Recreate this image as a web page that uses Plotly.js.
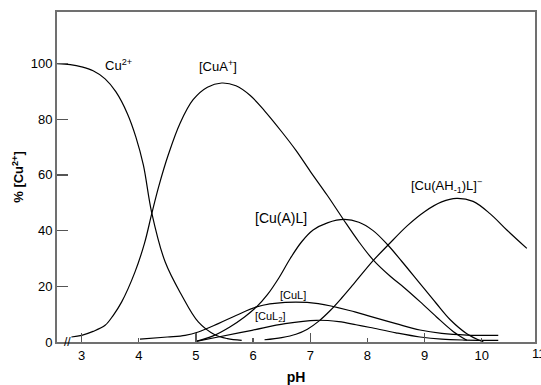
<!DOCTYPE html>
<html>
<head>
<meta charset="utf-8">
<script src="https://cdn.plot.ly/plotly-3.0.1.min.js"></script>
<style>html,body{margin:0;padding:0;background:#fff;}#chart{width:541px;height:385px;}</style>
</head>
<body>
<div id="chart"></div>
<script>
// Species distribution (% of total Cu2+) vs pH
const cu_pH   = [2.56, 2.8, 3.0, 3.2, 3.41, 3.6, 3.8, 3.95, 4.08, 4.225, 4.46, 4.75, 5.04, 5.33, 5.55, 5.8];
const cu_pct  = [100, 99.6, 98.8, 97.4, 94.5, 89.8, 82, 73.5, 63.5, 46.5, 28.8, 16.8, 7.2, 2.6, 1.2, 0.6];

const cua_pH  = [2.82, 3.0, 3.2, 3.41, 3.55, 3.7, 3.93, 4.1, 4.225, 4.35, 4.52, 4.72, 4.95, 5.2, 5.45, 5.7, 5.95, 6.2, 6.5, 6.75, 7.0, 7.3, 7.58, 7.85, 8.1, 8.4, 8.65, 8.92, 9.21, 9.5, 9.74];
const cua_pct = [1.8, 2.4, 3.8, 6, 9.5, 14.4, 25, 35.5, 46, 56, 67.5, 78.5, 87, 91.5, 93, 92, 88.5, 83, 75.5, 68.8, 61.3, 52.6, 44, 36, 29.5, 23.6, 19.4, 14.5, 9, 3.8, 0.6];

const cual_pH  = [5.0, 5.3, 5.6, 5.85, 6.06, 6.25, 6.45, 6.65, 6.85, 7.05, 7.3, 7.6, 7.85, 8.1, 8.35, 8.6, 8.9, 9.2, 9.45, 9.74, 10.03];
const cual_pct = [0.2, 2.2, 5.5, 9, 12.6, 17, 23, 30, 36, 40.2, 42.8, 44, 43, 40, 35, 29, 21.5, 14, 8, 3, 0];

const cuah_pH  = [6.2, 6.5, 6.75, 6.95, 7.15, 7.35, 7.55, 7.75, 8.1, 8.37, 8.7, 9.0, 9.3, 9.56, 9.85, 10.15, 10.44, 10.79];
const cuah_pct = [0.8, 1.6, 2.8, 4.6, 7.5, 11.3, 15.8, 20.6, 29.2, 35, 41.8, 46.8, 50.3, 51.6, 50.5, 46, 40.2, 33.6];

const cul_pH  = [4.02, 4.5, 4.81, 5.04, 5.39, 5.7, 6.06, 6.56, 7.14, 7.78, 8.05, 8.5, 8.92, 9.3, 9.74, 10.29];
const cul_pct = [1, 1.8, 2.4, 3.6, 6.6, 9.5, 12.6, 14.2, 13.8, 10.8, 9.2, 6.6, 4.3, 3.1, 2.5, 2.4];

const cul2_pH  = [5.0, 5.39, 5.98, 6.56, 7.11, 7.5, 7.8, 8.05, 8.5, 8.92, 9.3, 9.7, 10.29];
const cul2_pct = [0.2, 1.8, 4.2, 6.6, 7.8, 7.3, 6.2, 5.2, 3.3, 1.8, 1.0, 0.7, 0.6];

const xTicks = [3, 4, 5, 6, 7, 8, 9, 10];
const xLongTicks = [3, 5, 7, 9];
const yTicks = [0, 20, 40, 60, 80, 100];
const clippedTickLabel = '11';

const labels = [
  {text: 'Cu<sup>2+</sup>', x: 3.64, y: 99.4, size: 13},
  {text: '[CuA<sup>+</sup>]', x: 5.39, y: 99, size: 13},
  {text: '[Cu(A)L]', x: 6.49, y: 44.4, size: 14},
  {text: '[CuL]', x: 6.70, y: 16.8, size: 11},
  {text: '[CuL<sub>2</sub>]', x: 6.31, y: 8.9, size: 11},
  {text: '[Cu(AH<sub>-1</sub>)L]<sup>\u2212</sup>', x: 9.39, y: 55.9, size: 13}
];

const FONT = 'Liberation Sans, Arial, sans-serif';
const X_RANGE = [2.568, 10.933];
const line = {color: '#000', width: 1.2, shape: 'spline', smoothing: 1};
const series = [[cu_pH, cu_pct], [cua_pH, cua_pct], [cual_pH, cual_pct], [cuah_pH, cuah_pct], [cul_pH, cul_pct], [cul2_pH, cul2_pct]];
const traces = series.map(s => ({x: s[0], y: s[1], type: 'scatter', mode: 'lines', line: line, hoverinfo: 'skip'}));
traces.push({x: [], y: [], xaxis: 'x2', yaxis: 'y', type: 'scatter', mode: 'lines', showlegend: false});

const annotations = labels.map(l => ({
  text: l.text, x: l.x, y: l.y, xref: 'x', yref: 'y', showarrow: false,
  font: {family: FONT, size: l.size, color: '#000'}
}));
annotations.push({text: '//', x: 2.76, y: 0, xref: 'x', yref: 'y', showarrow: false,
  font: {family: FONT, size: 12, color: '#000'}});
// the "11" tick label sits just past the right frame and is clipped by the page edge
annotations.push({text: clippedTickLabel, x: (11 - X_RANGE[0]) / (X_RANGE[1] - X_RANGE[0]), y: 0,
  xref: 'paper', yref: 'paper', xanchor: 'center', yanchor: 'middle', yshift: -11, showarrow: false,
  font: {family: FONT, size: 13, color: '#000'}});

const layout = {
  width: 541, height: 385,
  margin: {l: 57, r: 6, t: 12, b: 43},
  paper_bgcolor: '#fff', plot_bgcolor: '#fff',
  showlegend: false,
  font: {family: FONT, size: 13, color: '#000'},
  xaxis: {
    range: X_RANGE, tickvals: xTicks, ticks: 'inside', ticklen: 4, tickcolor: '#555', tickwidth: 1.3,
    showline: true, linecolor: '#707070', linewidth: 2, mirror: true,
    showgrid: false, zeroline: false,
    tickfont: {family: FONT, size: 13, color: '#000'},
    title: {text: '<b>pH</b>', font: {family: FONT, size: 14, color: '#000'}, standoff: 12}
  },
  xaxis2: {
    overlaying: 'x', anchor: 'y', side: 'bottom', range: X_RANGE, tickvals: xLongTicks,
    ticks: 'inside', ticklen: 9, tickcolor: '#555', tickwidth: 1.3, showticklabels: false,
    showline: false, showgrid: false, zeroline: false
  },
  yaxis: {
    range: [0, 118.5], tickvals: yTicks, ticks: 'inside', ticklen: 11, tickcolor: '#555', tickwidth: 1.3,
    showline: true, linecolor: '#707070', linewidth: 2, mirror: true,
    showgrid: false, zeroline: false,
    tickfont: {family: FONT, size: 13, color: '#000'},
    title: {text: '<b>% [Cu<sup>2+</sup>]</b>', font: {family: FONT, size: 13, color: '#000'}, standoff: 4}
  },
  annotations: annotations
};

Plotly.newPlot('chart', traces, layout, {staticPlot: true, displayModeBar: false});
</script>
</body>
</html>
